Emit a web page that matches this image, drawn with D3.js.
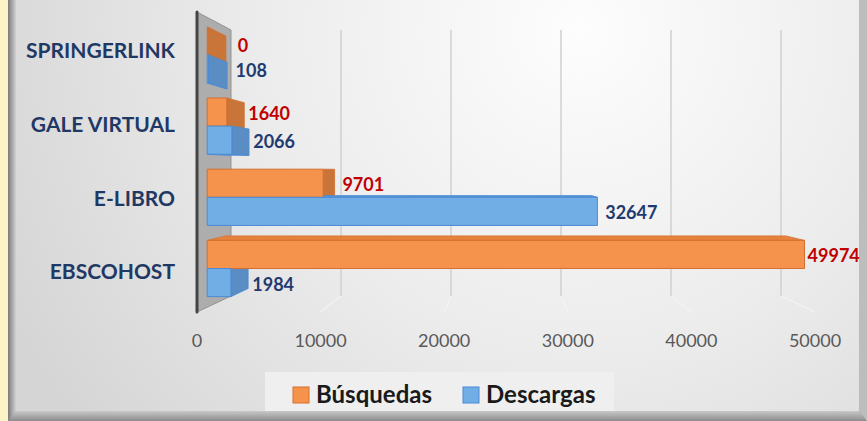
<!DOCTYPE html>
<html lang="es">
<head>
    <meta charset="UTF-8">
    <title>Búsquedas y descargas por base de datos</title>
    <style>
        body { margin: 0; background: #fcf4c6; }
        svg { display: block; }
    </style>
</head>
<body>
    <div id="chart"></div>

    <script src="https://d3js.org/d3.v7.min.js"></script>
    <script>
        const w = 867;
        const h = 421;

        // data
        const categories = ["SPRINGERLINK", "GALE VIRTUAL", "E-LIBRO", "EBSCOHOST"];
        const busquedas = [0, 1640, 9701, 49974];
        const descargas = [108, 2066, 32647, 1984];
        const seriesNames = ["Búsquedas", "Descargas"];
        const tickValues = [0, 10000, 20000, 30000, 40000, 50000];

        const colors = {
            "Búsquedas": {front: "#F5924C", stroke: "#D4702E", cap: "#C97438", top: "#E6823D", label: "#C00000"},
            "Descargas": {front: "#71AEE6", stroke: "#4B8BD3", cap: "#5A8DC4", top: "#5B98D8", label: "#1F3A70"}
        };

        // front and back planes of the 3d box
        const xF = d3.scaleLinear().domain([0, 50000]).range([197, 815]);
        const xB = d3.scaleLinear().domain([0, 50000]).range([231, 781]);
        const yF = d3.scaleLinear().domain([0, 1]).range([312, 12]);
        const yB = d3.scaleLinear().domain([0, 1]).range([296, 30]);
        const P = (v, k, t) => [xF(v) + (xB(v) - xF(v)) * t, yF(k) + (yB(k) - yF(k)) * t];

        const yCat = d3.scaleBand()
            .domain(categories.slice().reverse())
            .range([0.0106, 0.9935])
            .paddingInner(0.21)
            .paddingOuter(0.105);
        const ySer = d3.scaleBand()
            .domain(["Descargas", "Búsquedas"])
            .range([0, yCat.bandwidth()]);

        const t0 = 0.3, t1 = 0.85;

        const bars = [];
        categories.forEach((c, i) => {
            bars.push({cat: c, s: "Búsquedas", v: busquedas[i]});
            bars.push({cat: c, s: "Descargas", v: descargas[i]});
        });
        bars.forEach(d => {
            d.k0 = yCat(d.cat) + ySer(d.s);
            d.k1 = d.k0 + ySer.bandwidth();
        });

        const svg = d3.select("#chart").append("svg")
            .attr("width", w)
            .attr("height", h);

        const defs = svg.append("defs");
        const bg = defs.append("radialGradient").attr("id", "bg")
            .attr("gradientUnits", "userSpaceOnUse")
            .attr("cx", 580).attr("cy", 30).attr("r", 640);
        bg.append("stop").attr("offset", 0).attr("stop-color", "#fdfdfd");
        bg.append("stop").attr("offset", 0.5).attr("stop-color", "#ececec");
        bg.append("stop").attr("offset", 1).attr("stop-color", "#d5d5d5");
        const bot = defs.append("linearGradient").attr("id", "bevelBottom")
            .attr("x1", 0).attr("y1", 0).attr("x2", 0).attr("y2", 1);
        bot.append("stop").attr("offset", 0).attr("stop-color", "#c8c8c8");
        bot.append("stop").attr("offset", 1).attr("stop-color", "#8c8c8c");
        const left = defs.append("linearGradient").attr("id", "bevelLeft")
            .attr("x1", 0).attr("y1", 0).attr("x2", 1).attr("y2", 0);
        left.append("stop").attr("offset", 0).attr("stop-color", "#7a7a7a");
        left.append("stop").attr("offset", 1).attr("stop-color", "#d2d2d2");

        // frame
        svg.append("rect").attr("width", w).attr("height", h).attr("fill", "#fcf4c6");
        svg.append("rect").attr("x", 8).attr("width", w - 8).attr("height", h).attr("fill", "#a0a0a0");
        svg.append("rect").attr("x", 16).attr("width", w - 24).attr("height", 411).attr("fill", "url(#bg)");
        svg.append("polygon").attr("points", "8,421 16,411 859,411 867,421").attr("fill", "url(#bevelBottom)");
        svg.append("polygon").attr("points", "8,0 16,0 16,411 8,421").attr("fill", "url(#bevelLeft)");
        svg.append("polygon").attr("points", "859,0 867,0 867,421 859,411").attr("fill", "#bdbdbd");

        // gridlines on back wall and floor
        const grid = svg.append("g").attr("class", "grid");
        grid.selectAll("line.back")
            .data(tickValues.slice(1))
            .join("line")
            .attr("class", "back")
            .attr("x1", d => xB(d)).attr("x2", d => xB(d))
            .attr("y1", yB(1)).attr("y2", yB(0))
            .attr("stroke", "#d0d0d0").attr("stroke-width", 1.5);
        grid.selectAll("line.floor")
            .data(tickValues.slice(1))
            .join("line")
            .attr("class", "floor")
            .attr("x1", d => xB(d)).attr("y1", yB(0))
            .attr("x2", d => xF(d)).attr("y2", yF(0))
            .attr("stroke", "#f3f3f3").attr("stroke-width", 1.2);

        // side wall
        svg.append("polygon")
            .attr("points", [P(0, 0, 0), P(0, 1, 0), P(0, 1, 1), P(0, 0, 1)].join(" "))
            .attr("fill", "#adadad")
            .attr("stroke", "#939393");
        svg.append("line")
            .attr("x1", xF(0)).attr("x2", xF(0))
            .attr("y1", yF(1)).attr("y2", yF(0))
            .attr("stroke", "#454545").attr("stroke-width", 3)
            .attr("stroke-linecap", "round");

        // bars: side faces first, front faces last
        const faces = svg.append("g").attr("class", "faces");
        bars.forEach(d => {
            const c = colors[d.s];
            const topFront = P(d.v, d.k1, t0)[1], topBack = P(d.v, d.k1, t1)[1];
            const botFront = P(d.v, d.k0, t0)[1], botBack = P(d.v, d.k0, t1)[1];
            if (topBack < topFront) {
                faces.append("polygon")
                    .attr("points", [P(0, d.k1, t0), P(d.v, d.k1, t0), P(d.v, d.k1, t1), P(0, d.k1, t1)].join(" "))
                    .attr("fill", c.top).attr("stroke", c.stroke).attr("stroke-width", 0.8);
            }
            if (botBack > botFront) {
                faces.append("polygon")
                    .attr("points", [P(0, d.k0, t0), P(d.v, d.k0, t0), P(d.v, d.k0, t1), P(0, d.k0, t1)].join(" "))
                    .attr("fill", c.top).attr("stroke", c.stroke).attr("stroke-width", 0.8);
            }
            if (xB(d.v) > xF(d.v)) {
                faces.append("polygon")
                    .attr("points", [P(d.v, d.k0, t0), P(d.v, d.k1, t0), P(d.v, d.k1, t1), P(d.v, d.k0, t1)].join(" "))
                    .attr("fill", c.cap).attr("stroke", c.stroke).attr("stroke-width", 0.8);
            }
        });
        faces.selectAll("polygon.front")
            .data(bars.filter(d => d.v > 0))
            .join("polygon")
            .attr("class", "front")
            .attr("points", d => [P(0, d.k0, t0), P(0, d.k1, t0), P(d.v, d.k1, t0), P(d.v, d.k0, t0)].join(" "))
            .attr("fill", d => colors[d.s].front)
            .attr("stroke", d => colors[d.s].stroke)
            .attr("stroke-width", 1);

        // value labels
        svg.append("g").selectAll("text")
            .data(bars)
            .join("text")
            .attr("x", d => (xF(d.v) + xB(d.v)) / 2 + (d.v === 0 ? 29 : 36))
            .attr("y", d => P(d.v, (d.k0 + d.k1) / 2, t0)[1] + (d.v === 0 ? 11 : 8))
            .attr("text-anchor", "middle")
            .attr("font-family", "Lato, sans-serif")
            .attr("font-weight", "bold")
            .attr("font-size", 18)
            .attr("fill", d => colors[d.s].label)
            .text(d => d.v);

        // category labels
        svg.append("g").selectAll("text")
            .data(categories)
            .join("text")
            .attr("x", 175)
            .attr("y", d => yF(yCat(d) + yCat.bandwidth() / 2) + 7.5)
            .attr("text-anchor", "end")
            .attr("font-family", "Lato, sans-serif")
            .attr("font-weight", "bold")
            .attr("font-size", 21)
            .attr("fill", "#1F3864")
            .text(d => d);

        // value axis labels
        svg.append("g").selectAll("text")
            .data(tickValues)
            .join("text")
            .attr("x", d => xF(d))
            .attr("y", 347)
            .attr("text-anchor", "middle")
            .attr("font-family", "Lato, sans-serif")
            .attr("font-size", 18)
            .attr("fill", "#595959")
            .text(d => d);

        // legend
        const legend = svg.append("g").attr("id", "legend");
        legend.append("rect")
            .attr("x", 265).attr("y", 372)
            .attr("width", 349).attr("height", 39)
            .attr("fill", "#efefef");
        const items = legend.selectAll("g")
            .data(seriesNames)
            .join("g")
            .attr("transform", (d, i) => `translate(${[293, 463][i]},387)`);
        items.append("rect")
            .attr("width", 16).attr("height", 16)
            .attr("fill", d => colors[d].front)
            .attr("stroke", d => colors[d].stroke);
        items.append("text")
            .attr("x", 23).attr("y", 16)
            .attr("font-family", "Lato, sans-serif")
            .attr("font-weight", "bold")
            .attr("font-size", 24)
            .attr("fill", "#1a1a1a")
            .text(d => d);
    </script>
</body>
</html>
